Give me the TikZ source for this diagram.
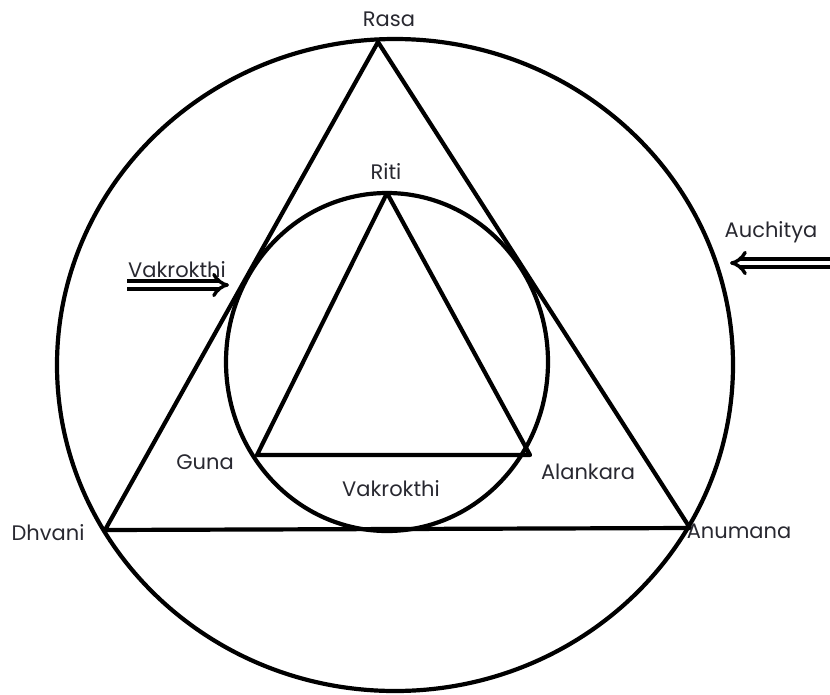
\documentclass[tikz,border=0pt]{standalone}
\usepackage{fontspec}
\setmainfont{Poppins}
\usetikzlibrary{arrows.meta,positioning,calc}
\definecolor{labelGray}{RGB}{40,40,48}

\begin{document}
\begin{tikzpicture}[x=1pt,y=-1pt,
        line/.style={line width=4.2pt,line join=round},
        lbl/.style={text=labelGray,font=\fontsize{21}{24}\selectfont,inner sep=0pt},
        dbl/.style={double=white,draw=black,double distance=4.5pt,line width=3.4pt,-{Implies[scale=1.6]}}
      ]
        \useasboundingbox (0,0) rectangle (830,694);

        % outer circle and triangle
        \coordinate (center) at (395,365);
        \coordinate (rasa) at (378,42);
        \coordinate (dhvani) at (105,530);
        \coordinate (anumana) at (690,528);
        \draw[line] (center) ellipse [x radius=338,y radius=326];
        \draw[line] (rasa) -- (dhvani) -- (anumana) -- cycle;

        % inner circle and triangle
        \coordinate (incenter) at (387,362);
        \coordinate (riti) at (387,193);
        \coordinate (guna) at (257,455);
        \coordinate (alankara) at (530,455);
        \draw[line] (incenter) ellipse [x radius=161,y radius=169];
        \draw[line] (riti) -- (guna) -- (alankara) -- cycle;

        \node[lbl] (lRasa) at (389,19) {Rasa};
        \node[lbl] (lRiti) at (386,172) {Riti};
        \node[lbl] (lAuchitya) at (771,232) {Auchitya};
        \node[lbl] (lVakLeft) at (177,270) {Vakrokthi};
        \node[lbl] (lGuna) at (205,462) {Guna};
        \node[lbl] (lVakBottom) at (391,489) {Vakrokthi};
        \node[lbl] (lAlankara) at (588,472) {Alankara};
        \node[lbl] (lDhvani) at (48,533) {Dhvani};
        \node[lbl] (lAnumana) at (739,531) {Anumana};

        % arrows
        \coordinate (vakFrom) at (127,285);
        \coordinate (vakTo) at (229,285);
        \coordinate (auchFrom) at (830,263);
        \coordinate (auchTo) at (730,263);
        \draw[dbl] (vakFrom) -- (vakTo);
        \draw[dbl] (auchFrom) -- (auchTo);
      \end{tikzpicture}
\end{document}
